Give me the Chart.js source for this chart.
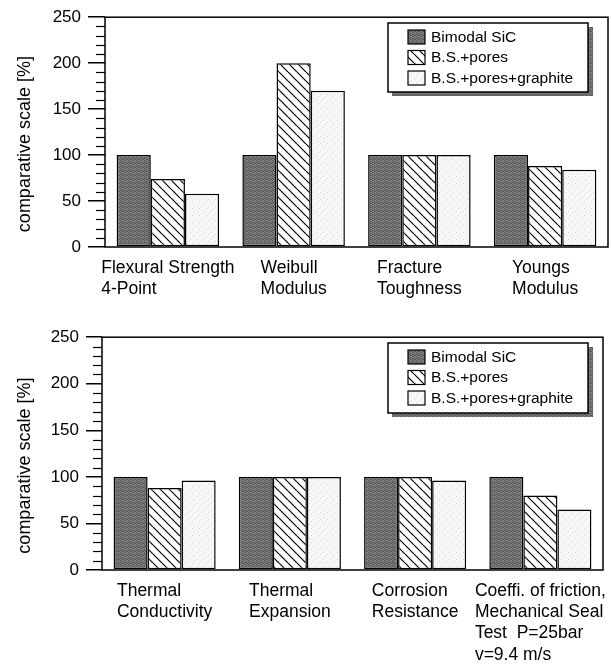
<!DOCTYPE html>
<html>
<head>
<meta charset="utf-8">
<script src="https://cdn.jsdelivr.net/npm/chart.js@4.4.1/dist/chart.umd.min.js"></script>
<style>
body { margin: 0; background: #fff; }
#wrap { position: relative; width: 611px; height: 665px; }
canvas { position: absolute; left: 0; }
#top { top: 0; }
#bottom { top: 320px; }
</style>
</head>
<body>
<div id="wrap">
  <canvas id="top" width="611" height="320"></canvas>
  <canvas id="bottom" width="611" height="345"></canvas>
</div>
<script>
// series names
const seriesNames = ['Bimodal SiC', 'B.S.+pores', 'B.S.+pores+graphite'];

// upper chart
const mechLabels = [['Flexural Strength', '4-Point'], ['Weibull', 'Modulus'], ['Fracture', 'Toughness'], ['Youngs', 'Modulus']];
const mechBimodal = [100, 100, 100, 100];
const mechPores = [74, 200, 100, 88];
const mechGraphite = [58, 170, 100, 84];

// lower chart
const physLabels = [['Thermal', 'Conductivity'], ['Thermal', 'Expansion'], ['Corrosion', 'Resistance'],
    ['Coeffi. of friction,', 'Mechanical Seal', 'Test  P=25bar', 'v=9.4 m/s']];
const physBimodal = [100, 100, 100, 100];
const physPores = [88, 100, 100, 80];
const physGraphite = [96, 100, 96, 65];

const yTicks = [0, 50, 100, 150, 200, 250];
const yTitle = 'comparative scale [%]';

const FONT = '"Liberation Sans", Arial, Helvetica, sans-serif';
Chart.defaults.font.family = FONT;
Chart.defaults.color = '#000';

// fill textures for the bars
function makePattern(size, draw) {
    const c = document.createElement('canvas');
    c.width = c.height = size;
    const g = c.getContext('2d');
    draw(g, size);
    return g.createPattern(c, 'repeat');
}

const darkFill = makePattern(4, g => {
    g.fillStyle = '#7c7c7c';
    g.fillRect(0, 0, 4, 4);
    g.fillStyle = '#555';
    [[0, 0], [2, 1], [1, 2], [3, 3], [2, 3], [0, 2]].forEach(([x, y]) => g.fillRect(x, y, 1, 1));
});

const hatchFill = makePattern(9, (g, s) => {
    g.fillStyle = '#fff';
    g.fillRect(0, 0, s, s);
    g.strokeStyle = '#000';
    g.lineWidth = 1.2;
    [-s, 0, s].forEach(x0 => {
        g.beginPath();
        g.moveTo(x0, 0);
        g.lineTo(x0 + s, s);
        g.stroke();
    });
});

const lightFill = makePattern(7, g => {
    g.fillStyle = '#f7f7f7';
    g.fillRect(0, 0, 7, 7);
    g.fillStyle = '#d4d4d4';
    [[1, 1], [5, 3], [3, 5]].forEach(([x, y]) => g.fillRect(x, y, 1, 1));
});

// frame, minor ticks, category labels and y title
const frame = {
    id: 'frame',
    afterDatasetsDraw(chart) {
        const ctx = chart.ctx;
        const a = chart.chartArea;
        const ys = chart.scales.y;
        const xs = chart.scales.x;
        ctx.save();
        ctx.strokeStyle = '#000';
        ctx.lineWidth = 1.5;
        ctx.strokeRect(a.left, a.top, a.right - a.left, a.bottom - a.top);

        // minor ticks every 10
        ctx.lineWidth = 1.2;
        for (let v = 10; v < 250; v += 10) {
            if (v % 50 === 0) continue;
            const py = Math.round(ys.getPixelForValue(v)) + 0.5;
            ctx.beginPath();
            ctx.moveTo(a.left - 9, py);
            ctx.lineTo(a.left, py);
            ctx.stroke();
        }

        // category labels, left aligned inside a centred block
        ctx.fillStyle = '#000';
        ctx.font = '17.5px ' + FONT;
        ctx.textBaseline = 'middle';
        ctx.textAlign = 'left';
        chart.data.labels.forEach((lines, i) => {
            const cx = xs.getPixelForValue(i);
            const w = Math.max(...lines.map(t => ctx.measureText(t).width));
            lines.forEach((t, j) => {
                ctx.fillText(t, cx - w / 2, a.bottom + 21 + j * 21.3);
            });
        });

        // y title
        ctx.font = '18px ' + FONT;
        ctx.textAlign = 'center';
        ctx.translate(25, (a.top + a.bottom) / 2 + 12);
        ctx.rotate(-Math.PI / 2);
        ctx.fillText(yTitle, 0, 0);
        ctx.restore();
    }
};

// legend box with shadow
const boxLegend = {
    id: 'boxLegend',
    afterDraw(chart, args, opts) {
        const ctx = chart.ctx;
        const { x, y, w, h } = opts;
        ctx.save();
        ctx.fillStyle = darkFill;
        ctx.fillRect(x + 4, y + 4, w + 1, h);
        ctx.fillStyle = '#fff';
        ctx.fillRect(x, y, w, h);
        ctx.strokeStyle = '#000';
        ctx.lineWidth = 1.5;
        ctx.strokeRect(x, y, w, h);
        ctx.font = '15.5px ' + FONT;
        ctx.textBaseline = 'middle';
        chart.data.datasets.forEach((ds, i) => {
            const sy = y + 7 + i * 20.5;
            ctx.fillStyle = ds.backgroundColor;
            ctx.fillRect(x + 20, sy, 17, 14);
            ctx.lineWidth = 1.2;
            ctx.strokeRect(x + 20, sy, 17, 14);
            ctx.fillStyle = '#000';
            ctx.fillText(ds.label, x + 43, sy + 7.5);
        });
        ctx.restore();
    }
};

function buildChart(id, labels, a, b, c, cfg) {
    return new Chart(document.getElementById(id), {
        type: 'bar',
        data: {
            labels: labels,
            datasets: [
                { label: seriesNames[0], data: a, backgroundColor: darkFill },
                { label: seriesNames[1], data: b, backgroundColor: hatchFill },
                { label: seriesNames[2], data: c, backgroundColor: lightFill }
            ]
        },
        options: {
            responsive: false,
            animation: false,
            devicePixelRatio: 1,
            layout: { padding: { top: cfg.top, right: cfg.right, left: 0, bottom: 0 } },
            datasets: {
                bar: {
                    categoryPercentage: 0.815,
                    barPercentage: 1,
                    borderColor: '#000',
                    borderWidth: 1.5,
                    borderSkipped: false
                }
            },
            plugins: {
                legend: { display: false },
                tooltip: { enabled: false },
                boxLegend: cfg.legend
            },
            scales: {
                x: {
                    ticks: { display: false },
                    grid: { display: false },
                    border: { display: false },
                    afterFit: s => { s.height = cfg.xh; }
                },
                y: {
                    min: 0,
                    max: 250,
                    afterBuildTicks: s => { s.ticks = yTicks.map(v => ({ value: v })); },
                    ticks: { color: '#000', padding: 7, font: { size: 17 } },
                    grid: { drawOnChartArea: false, tickLength: cfg.tick, color: '#000', lineWidth: 1.5 },
                    border: { display: false },
                    afterFit: s => { s.width = cfg.left; }
                }
            }
        },
        plugins: [frame, boxLegend]
    });
}

buildChart('top', mechLabels, mechBimodal, mechPores, mechGraphite,
    { top: 13, right: 3, left: 105, xh: 73, tick: 17, legend: { x: 388, y: 23, w: 200, h: 69 } });

buildChart('bottom', physLabels, physBimodal, physPores, physGraphite,
    { top: 14, right: 8, left: 102, xh: 95, tick: 16, legend: { x: 388, y: 23, w: 200, h: 70 } });
</script>
</body>
</html>
